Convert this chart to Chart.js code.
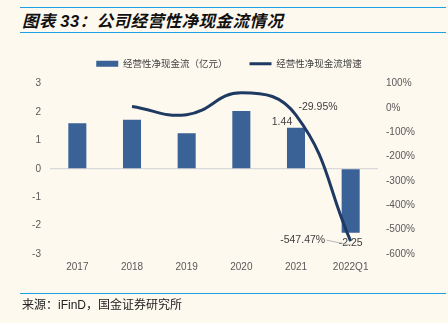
<!DOCTYPE html>
<html>
<head>
<meta charset="utf-8">
<script src="https://cdn.jsdelivr.net/npm/chart.js@4/dist/chart.umd.min.js"></script>
<style>
  html, body { margin: 0; padding: 0; background: #fdf9ef; }
  #wrap { position: relative; width: 448px; height: 323px; overflow: hidden; background: #fdf9ef; }
  .rule { position: absolute; left: 20px; right: 2px; height: 0; border-top: 1.5px solid #1ea0e6; }
  #title { position: absolute; left: 22px; top: 8px; font: italic bold 16.5px "Noto Sans CJK SC", sans-serif; color: #111; letter-spacing: 0.5px; white-space: nowrap; }
  #title .num { font-family: "Liberation Sans", Arial, sans-serif; font-size: 16.5px; }
  #source { position: absolute; left: 22px; top: 295px; font: 12px "Noto Sans CJK SC", sans-serif; color: #222; white-space: nowrap; }
  #source .lat { font-family: "Liberation Sans", Arial, sans-serif; }
  #chartBox { position: absolute; left: 0; top: 0; width: 448px; height: 323px; }
</style>
</head>
<body>
<div id="wrap">
  <div class="rule" style="top:7px"></div>
  <div id="title">图表 <span class="num">33</span>：公司经营性净现金流情况</div>
  <div class="rule" style="top:32px"></div>
  <div id="chartBox"><canvas id="c"></canvas></div>
  <div class="rule" style="top:293px"></div>
  <div id="source">来源：<span class="lat">iFinD</span>，国金证券研究所</div>
</div>
<script>
// Categories and series
const categories = ['2017', '2018', '2019', '2020', '2021', '2022Q1'];
const cashFlow = [1.60, 1.72, 1.25, 2.03, 1.44, -2.25];         // 经营性净现金流（亿元）
const cashFlowGrowth = [null, 6, -28, 62, -29.95, -547.47];     // 经营性净现金流增速 (%)
const leftTicks = [-3, -2, -1, 0, 1, 2, 3];
const rightTicks = [-600, -500, -400, -300, -200, -100, 0, 100];
// Which points carry a value label
const barLabelIdx = [4, 5];
const lineLabelIdx = [4, 5];

const BAR_COLOR = '#3a6296';
const LINE_COLOR = '#1f3a62';
const TICK_COLOR = '#595959';
const NUM_FONT = '"Liberation Sans", Arial, sans-serif';
const CJK_FONT = '"Noto Sans CJK SC", sans-serif';

// Extra space between the legend and the plot area
const legendGap = {
  id: 'legendGap',
  beforeInit(chart) {
    const lg = chart.legend;
    if (!lg) return;
    const fit = lg.fit;
    lg.fit = function () { fit.call(this); this.height += 5; };
  }
};

const valueLabels = {
  id: 'valueLabels',
  afterDatasetsDraw(chart) {
    const ctx = chart.ctx;
    const y1 = chart.scales.y;
    const y2 = chart.scales.y2;
    const x = chart.scales.x;
    ctx.save();
    ctx.font = '10.5px ' + NUM_FONT;
    ctx.fillStyle = '#404040';
    ctx.textBaseline = 'middle';
    ctx.textAlign = 'center';
    barLabelIdx.forEach(i => {
      const v = cashFlow[i];
      const px = x.getPixelForValue(i);
      const py = y1.getPixelForValue(v);
      if (v >= 0) ctx.fillText(v.toFixed(2), px - 14, py - 6);
      else ctx.fillText(v.toFixed(2), px, py + 10);
    });
    lineLabelIdx.forEach(i => {
      const v = cashFlowGrowth[i];
      const px = x.getPixelForValue(i);
      const py = y2.getPixelForValue(v);
      const txt = v.toFixed(2) + '%';
      if (i === categories.length - 1) {
        // label placed to the left with a leader line back to the point
        const lx = px - 48, ly = py - 1;
        ctx.fillText(txt, lx, ly);
        ctx.strokeStyle = '#a6a6a6';
        ctx.lineWidth = 0.8;
        ctx.beginPath();
        ctx.moveTo(lx + 24, ly);
        ctx.lineTo(px + 1, py + 4);
        ctx.stroke();
      } else {
        ctx.fillText(txt, px + 22, py - 8);
      }
    });
    ctx.restore();
  }
};

new Chart(document.getElementById('c'), {
  data: {
    labels: categories,
    datasets: [
      {
        type: 'line',
        label: '经营性净现金流增速',
        data: cashFlowGrowth,
        yAxisID: 'y2',
        borderColor: LINE_COLOR,
        backgroundColor: LINE_COLOR,
        borderWidth: 3,
        pointRadius: 0,
        pointHoverRadius: 0,
        pointStyle: 'line',
        tension: 0.45,
        spanGaps: false,
        order: 0
      },
      {
        type: 'bar',
        label: '经营性净现金流（亿元）',
        data: cashFlow,
        yAxisID: 'y',
        backgroundColor: BAR_COLOR,
        borderWidth: 0,
        pointStyle: 'rect',
        categoryPercentage: 1,
        barPercentage: 0.33,
        order: 1
      }
    ]
  },
  options: {
    responsive: true,
    maintainAspectRatio: false,
    animation: false,
    events: [],
    layout: { padding: { top: 37, bottom: 43, left: 10, right: 0 } },
    plugins: {
      tooltip: { enabled: false },
      legend: {
        position: 'top',
        reverse: true,
        labels: {
          usePointStyle: true,
          pointStyleWidth: 22,
          boxHeight: 6,
          padding: 22,
          color: '#404040',
          font: { family: CJK_FONT, size: 9.5 }
        }
      }
    },
    scales: {
      x: {
        grid: { display: false, drawTicks: false },
        border: { display: false },
        ticks: { color: TICK_COLOR, font: { family: NUM_FONT, size: 10 }, padding: 7 }
      },
      y: {
        position: 'left',
        min: -3, max: 3,
        afterFit(s) { s.width = 40; },
        afterBuildTicks(s) { s.ticks = leftTicks.map(v => ({ value: v })); },
        grid: {
          drawTicks: false,
          color: c => c.tick && c.tick.value === 0 ? '#d9d9d9' : 'rgba(0,0,0,0)',
          lineWidth: 1.2
        },
        border: { display: false },
        ticks: { color: TICK_COLOR, font: { family: NUM_FONT, size: 10 }, padding: 9 }
      },
      y2: {
        position: 'right',
        min: -600, max: 100,
        afterFit(s) { s.width = 70; },
        afterBuildTicks(s) { s.ticks = rightTicks.map(v => ({ value: v })); },
        grid: { display: false, drawTicks: false },
        border: { display: false },
        ticks: { color: TICK_COLOR, font: { family: NUM_FONT, size: 10 }, padding: 8, callback: v => v + '%' }
      }
    }
  },
  plugins: [legendGap, valueLabels]
});
</script>
</body>
</html>
